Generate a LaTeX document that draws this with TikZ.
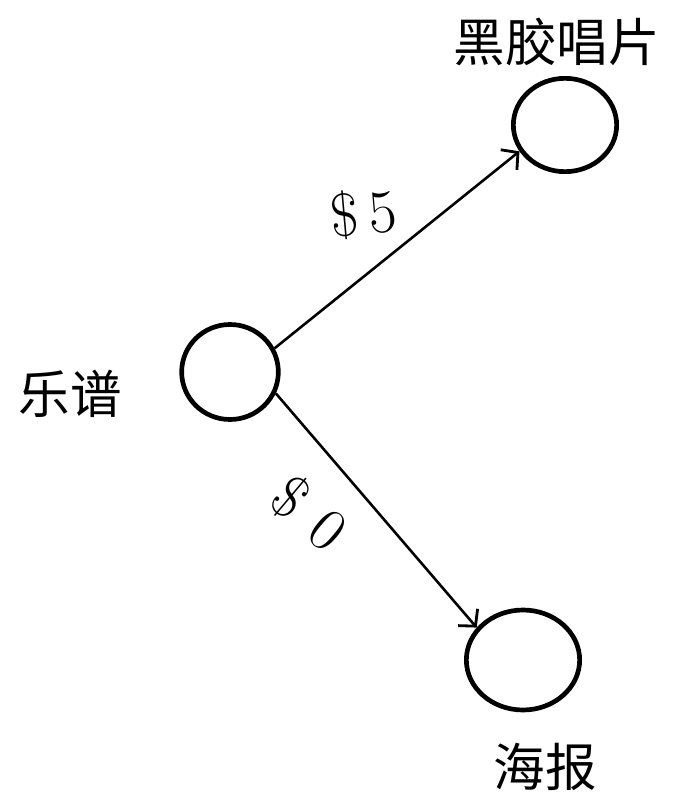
\documentclass[tikz,border=0pt]{standalone}
\usepackage{fontspec}
\newfontfamily\cjk{Noto Sans CJK SC}
\usetikzlibrary{positioning,calc}
\usetikzlibrary{arrows.meta,shapes.geometric}
\tikzset{
  v/.style={ellipse,draw=black,fill=white,line width=4pt,inner sep=0pt},
  edge/.style={draw=black,line width=2.2pt,-{Straight Barb[length=10pt,width=22pt,line width=2.4pt]}},
  itemtext/.style={font=\cjk\fontsize{44}{44}\selectfont,inner sep=0pt},
  price/.style={font=\fontsize{52}{52}\selectfont,inner sep=0pt},
}
\begin{document}
\begin{tikzpicture}
\useasboundingbox (0,0) rectangle (20.58,-23.91);
\coordinate (p1) at (6.9,-11.16);
\coordinate (p2) at (16.95,-3.75);
\coordinate (p3) at (15.69,-19.8);
\node[v,minimum width=2.9cm,minimum height=2.85cm] (score) at (p1) {};
\node[v,minimum width=3.1cm,minimum height=2.8cm] (vinyl) at (p2) {};
\node[v,minimum width=3.4cm,minimum height=3.0cm] (poster) at (p3) {};
\draw[edge] (score.28) -- (vinyl.210);
\draw[edge] (score.-25) -- (poster.145);
\node[itemtext] (scorename) at (2.1,-11.8) {乐谱};
\node[itemtext] (vinylname) at (16.7,-1.26) {黑胶唱片};
\node[itemtext] (postername) at (16.35,-23.0) {海报};
\node[price,rotate=5] (five) at (10.9,-6.4) {\$\,5};
\node[price,rotate=-40] (zero) at (9.3,-15.4) {\$\hspace{0.35em}0};
\end{tikzpicture}
\end{document}
